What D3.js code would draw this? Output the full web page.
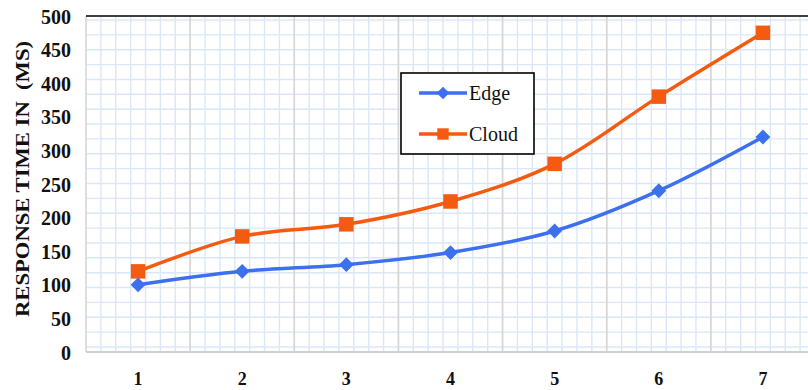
<!DOCTYPE html>
<html><head><meta charset="utf-8">
<script src="https://cdn.jsdelivr.net/npm/d3@7"></script>
<style>html,body{margin:0;padding:0;background:#fff;}svg{display:block;}</style>
</head><body>
<svg id="chart" width="808" height="390"></svg>
<script>
const categories = ["1","2","3","4","5","6","7"];
const edgeValues = [100,120,130,148,180,240,320];
const cloudValues = [120,172,190,224,280,380,475];
const yTicks = [0,50,100,150,200,250,300,350,400,450,500];
const seriesNames = ["Edge","Cloud"];
const yTitle = "RESPONSE TIME IN  (MS)";

const SERIF = '"Liberation Serif", "Times New Roman", serif';
const svg = d3.select("#chart");
const W = 808, H = 390;
const m = {left:86, top:16, bottom:352, right:815};

const x = d3.scaleBand().domain(categories).range([m.left, m.right]).padding(0);
const y = d3.scaleLinear().domain([0,500]).range([m.bottom, m.top]);

svg.append("defs").append("clipPath").attr("id","c")
  .append("rect").attr("x",m.left).attr("y",m.top).attr("width",W-m.left).attr("height",m.bottom-m.top);

const g = svg.append("g").attr("clip-path","url(#c)");
const gridColor = "#dbe7f8";
const nV = categories.length*7;
const vx = d3.scaleLinear().domain([0,nV]).range([m.left, m.right]);
g.append("g").selectAll("line").data(d3.range(1,nV)).join("line")
  .attr("x1",d=>vx(d)).attr("x2",d=>vx(d)).attr("y1",m.top).attr("y2",m.bottom)
  .attr("stroke",gridColor).attr("stroke-width",1.4);
const hy = d3.scaleLinear().domain([0,22]).range([20, 347]);
g.append("g").selectAll("line").data(d3.range(0,23)).join("line")
  .attr("x1",m.left).attr("x2",W).attr("y1",d=>hy(d)).attr("y2",d=>hy(d))
  .attr("stroke",gridColor).attr("stroke-width",1.4);
g.append("g").selectAll("line").data(categories.slice(1)).join("line")
  .attr("x1",d=>x(d)).attr("x2",d=>x(d)).attr("y1",m.top).attr("y2",m.bottom)
  .attr("stroke","#d6d6d6").attr("stroke-width",1.6);

svg.append("line").attr("x1",m.left).attr("x2",m.left).attr("y1",m.top).attr("y2",m.bottom)
  .attr("stroke","#d6d6d6").attr("stroke-width",1.6);
svg.append("line").attr("x1",m.left).attr("x2",W).attr("y1",m.bottom).attr("y2",m.bottom)
  .attr("stroke","#d0d0d0").attr("stroke-width",2);
svg.append("line").attr("x1",m.left).attr("x2",W).attr("y1",m.top).attr("y2",m.top)
  .attr("stroke","#000").attr("stroke-width",1.6);

const yAxis = d3.axisLeft(y).tickValues(yTicks).tickSize(0).tickPadding(0);
const ya = svg.append("g").attr("transform",`translate(${m.left-15},0)`).call(yAxis);
ya.select(".domain").remove();
ya.selectAll("text").style("font-family",SERIF).style("font-weight","bold").style("font-size","20px")
  .attr("fill","#111").attr("dy","0.35em");

const xAxis = d3.axisBottom(x).tickSize(0).tickPadding(0);
const xa = svg.append("g").attr("transform",`translate(0,${m.bottom+20})`).call(xAxis);
xa.select(".domain").remove();
xa.selectAll("text").style("font-family",SERIF).style("font-weight","bold").style("font-size","18px")
  .attr("fill","#111").attr("dy","0.71em");

svg.append("text").attr("transform","translate(29,179) rotate(-90)")
  .attr("text-anchor","middle").style("font-family",SERIF).style("font-weight","bold").style("font-size","19px")
  .attr("textLength",276).attr("lengthAdjust","spacingAndGlyphs")
  .attr("fill","#111").style("white-space","pre").text(yTitle);

const blue = "#3d70ee", orange = "#f45a10";
const cx = d=>x(d)+x.bandwidth()/2;
const line = d3.line().x(d=>cx(d.c)).y(d=>y(d.v)).curve(d3.curveCatmullRom.alpha(0.5));
const edgeData = categories.map((c,i)=>({c,v:edgeValues[i]}));
const cloudData = categories.map((c,i)=>({c,v:cloudValues[i]}));

svg.append("path").datum(cloudData).attr("d",line).attr("fill","none").attr("stroke",orange).attr("stroke-width",3.5);
svg.append("path").datum(edgeData).attr("d",line).attr("fill","none").attr("stroke",blue).attr("stroke-width",3.5);

const sq = d3.symbol().type(d3.symbolSquare).size(210);
const dm = d3.symbol().type(d3.symbolSquare).size(110);
svg.append("g").selectAll("path").data(cloudData).join("path")
  .attr("d",sq).attr("transform",d=>`translate(${cx(d.c)},${y(d.v)})`).attr("fill",orange);
svg.append("g").selectAll("path").data(edgeData).join("path")
  .attr("d",dm).attr("transform",d=>`translate(${cx(d.c)},${y(d.v)}) rotate(45)`).attr("fill",blue);

const lg = svg.append("g");
lg.append("rect").attr("x",401).attr("y",73).attr("width",133).attr("height",81)
  .attr("fill","#fff").attr("stroke","#000").attr("stroke-width",1.6);
const items = [{n:seriesNames[0],c:blue,s:d3.symbol().type(d3.symbolSquare).size(80),r:45,y:93},
               {n:seriesNames[1],c:orange,s:d3.symbol().type(d3.symbolSquare).size(130),r:0,y:134}];
items.forEach(it=>{
  lg.append("line").attr("x1",419).attr("x2",467).attr("y1",it.y).attr("y2",it.y).attr("stroke",it.c).attr("stroke-width",3.5);
  lg.append("path").attr("d",it.s).attr("transform",`translate(443,${it.y}) rotate(${it.r})`).attr("fill",it.c);
  lg.append("text").attr("x",469).attr("y",it.y).attr("dy","0.35em")
    .style("font-family",SERIF).style("font-size","20px").attr("fill","#111").text(it.n);
});
</script>
</body></html>
